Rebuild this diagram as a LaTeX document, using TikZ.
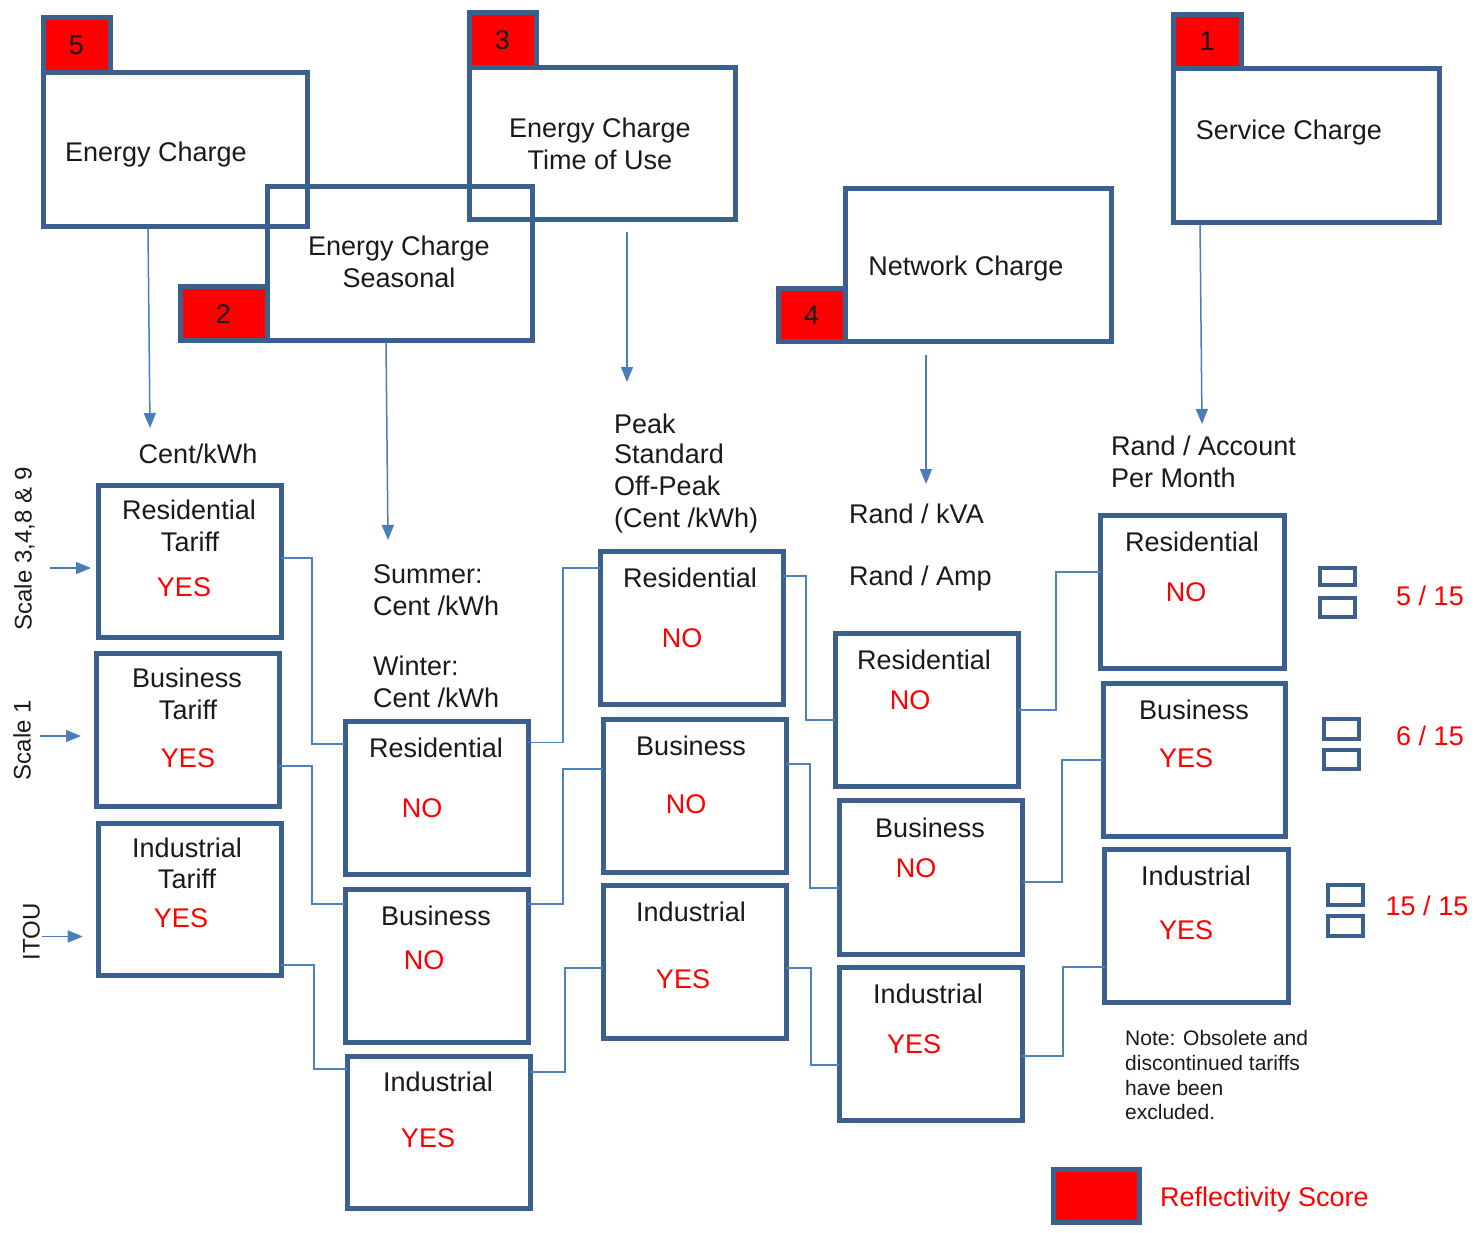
\documentclass[tikz,border=0pt]{standalone}
\usepackage{fontspec}
\setmainfont{Liberation Sans}
\usetikzlibrary{arrows.meta,calc}
\definecolor{boxblue}{RGB}{60,96,142}
\definecolor{tagred}{RGB}{255,0,0}
\definecolor{connblue}{RGB}{79,129,189}
\definecolor{arrblue}{RGB}{74,126,187}
\definecolor{txtblack}{RGB}{26,26,26}
\definecolor{ansred}{RGB}{255,0,0}
\begin{document}
\begin{tikzpicture}[x=1pt,y=-1pt,
  bx/.style={draw=boxblue, line width=5pt, inner sep=0pt, outer sep=0pt, anchor=north west},
  tagbox/.style={bx, fill=tagred},
  sq/.style={draw=boxblue, line width=4pt, inner sep=0pt, outer sep=0pt, anchor=north west, minimum width=35pt},
  conn/.style={draw=connblue, line width=1.5pt},
  arr/.style={draw=arrblue, line width=1.5pt, -{Triangle[length=15pt,width=12pt]}},
  txt/.style={inner sep=0pt, text=txtblack, font=\fontsize{27}{32}\selectfont, text height=19.5pt, text depth=0pt},
  ans/.style={txt, text=ansred},
  side/.style={inner sep=0pt, text=txtblack, font=\fontsize{24}{28}\selectfont, text height=17.2pt, text depth=0pt, rotate=90},
  note/.style={inner sep=0pt, text=txtblack, font=\fontsize{21}{24}\selectfont, text height=15pt, text depth=0pt, anchor=west}
]
\fill[white] (0,0) rectangle (1479,1232);
\useasboundingbox (0,0) rectangle (1479,1232);

% ---- top boxes ----
\node[bx, minimum width=264pt, minimum height=154pt] (ec5) at (43,72) {};
\node[tagbox, minimum width=67pt, minimum height=55pt] (tg5) at (43,17) {};
\node[bx, minimum width=265pt, minimum height=153.5pt] (ec2) at (267,186.5) {};
\node[tagbox, minimum width=87pt, minimum height=53.5pt] (tg2) at (180,286.5) {};
\node[bx, minimum width=266pt, minimum height=152pt] (ec3) at (469,67) {};
\node[tagbox, minimum width=67pt, minimum height=54.5pt] (tg3) at (469,12.5) {};
\node[bx, minimum width=266pt, minimum height=153.5pt] (nc4) at (845,188) {};
\node[tagbox, minimum width=67pt, minimum height=53.5pt] (tg4) at (778,288) {};
\node[bx, minimum width=266pt, minimum height=154pt] (sc1) at (1173,68) {};
\node[tagbox, minimum width=68pt, minimum height=54pt] (tg1) at (1173,14) {};

\node[txt] (n5) at (tg5.center) {5};
\node[txt] (n2) at (tg2.center) {2};
\node[txt] (n3) at (tg3.center) {3};
\node[txt] (n4) at (tg4.center) {4};
\node[txt] (n1) at (tg1.center) {1};

\node[txt] (ec5t) at (156,152) {Energy Charge};
\node[txt] (ec2a) at (399,246) {Energy Charge};
\node[txt] (ec2b) at (399,278) {Seasonal};
\node[txt] (ec3a) at (600,128) {Energy Charge};
\node[txt] (ec3b) at (600,160) {Time of Use};
\node[txt] (nc4t) at (966,266) {Network Charge};
\node[txt] (sc1t) at (1289,130) {Service Charge};

% ---- down arrows ----
\coordinate (e5) at (150,428);
\coordinate (e2) at (388,540);
\coordinate (e3) at (627,382);
\coordinate (e4) at (926,484);
\coordinate (e1) at (1202,424);
\draw[arr] ($(ec5.south -| 148,0)+(0,2.5)$) -- (e5);
\draw[arr] ($(ec2.south -| 386,0)+(0,2.5)$) -- (e2);
\draw[arr] ($(ec3.south -| 627,0)+(0,13)$) -- (e3);
\draw[arr] ($(nc4.south -| 926,0)+(0,13.5)$) -- (e4);
\draw[arr] ($(sc1.south -| 1200,0)+(0,2.5)$) -- (e1);

% ---- unit labels ----
\node[txt] (u1) at (198,454) {Cent/kWh};
\node[txt, anchor=west] (u2a) at (373,574) {Summer:};
\node[txt, anchor=west] (u2b) at (373,606) {Cent /kWh};
\node[txt, anchor=west] (u2c) at (373,666) {Winter:};
\node[txt, anchor=west] (u2d) at (373,698) {Cent /kWh};
\node[txt, anchor=west] (u3a) at (614,424) {Peak};
\node[txt, anchor=west] (u3b) at (614,454) {Standard};
\node[txt, anchor=west] (u3c) at (614,486) {Off-Peak};
\node[txt, anchor=west] (u3d) at (614,518) {(Cent /kWh)};
\node[txt, anchor=west] (u4a) at (849,514) {Rand / kVA};
\node[txt, anchor=west] (u4b) at (849,576) {Rand / Amp};
\node[txt, anchor=west] (u5a) at (1111,446) {Rand / Account};
\node[txt, anchor=west] (u5b) at (1111,478) {Per Month};

% ---- side labels ----
\node[side] (sl1) at (23,549) {Scale 3,4,8 \& 9};
\node[side] (sl2) at (22,740) {Scale 1};
\node[side] (sl3) at (31,932) {ITOU};

% ---- column 1 ----
\node[bx, minimum width=183pt, minimum height=152.5pt] (rt1) at (98,485) {};
\node[bx, minimum width=183pt, minimum height=153pt] (bt1) at (96,653) {};
\node[bx, minimum width=183pt, minimum height=152.5pt] (it1) at (98,823) {};
\node[txt] (rt1a) at (189,510) {Residential};
\node[txt] (rt1b) at (190,542) {Tariff};
\node[ans] (rt1c) at (184,587) {YES};
\node[txt] (bt1a) at (187,678) {Business};
\node[txt] (bt1b) at (188,710) {Tariff};
\node[ans] (bt1c) at (188,758) {YES};
\node[txt] (it1a) at (187,848) {Industrial};
\node[txt] (it1b) at (187,879) {Tariff};
\node[ans] (it1c) at (181,918) {YES};

\coordinate (l1) at (50,568);
\coordinate (l2) at (40,736);
\coordinate (l3) at (42,936.5);
\draw[arr, shorten >=7pt] (l1) -- (rt1.west |- l1);
\draw[arr, shorten >=15pt] (l2) -- (bt1.west |- l2);
\draw[arr, shorten >=15.3pt] (l3) -- (it1.west |- l3);

% ---- column 2 ----
\node[bx, minimum width=183pt, minimum height=153pt] (rs2) at (345,721) {};
\node[bx, minimum width=183pt, minimum height=153pt] (bs2) at (345,889) {};
\node[bx, minimum width=183pt, minimum height=152pt] (is2) at (347,1056) {};
\node[txt] (rs2a) at (436,748) {Residential};
\node[ans] (rs2b) at (422,808) {NO};
\node[txt] (bs2a) at (436,916) {Business};
\node[ans] (bs2b) at (424,960) {NO};
\node[txt] (is2a) at (438,1082) {Industrial};
\node[ans] (is2b) at (428,1138) {YES};

% ---- column 3 ----
\node[bx, minimum width=183pt, minimum height=153pt] (r3) at (600,551) {};
\node[bx, minimum width=183pt, minimum height=153pt] (b3) at (603,719) {};
\node[bx, minimum width=183pt, minimum height=153pt] (i3) at (603,885) {};
\node[txt] (r3a) at (690,578) {Residential};
\node[ans] (r3b) at (682,638) {NO};
\node[txt] (b3a) at (691,746) {Business};
\node[ans] (b3b) at (686,804) {NO};
\node[txt] (i3a) at (691,912) {Industrial};
\node[ans] (i3b) at (683,979) {YES};

% ---- column 4 ----
\node[bx, minimum width=183pt, minimum height=153.5pt] (r4) at (835,633) {};
\node[bx, minimum width=183.5pt, minimum height=153.5pt] (b4) at (839,800.5) {};
\node[bx, minimum width=183pt, minimum height=153pt] (i4) at (839,967) {};
\node[txt] (r4a) at (924,660) {Residential};
\node[ans] (r4b) at (910,700) {NO};
\node[txt] (b4a) at (930,828) {Business};
\node[ans] (b4b) at (916,868) {NO};
\node[txt] (i4a) at (928,994) {Industrial};
\node[ans] (i4b) at (914,1044) {YES};

% ---- column 5 ----
\node[bx, minimum width=183.5pt, minimum height=153.5pt] (r5) at (1100.5,515) {};
\node[bx, minimum width=182.5pt, minimum height=153.5pt] (b5) at (1103,683) {};
\node[bx, minimum width=183.5pt, minimum height=152.5pt] (i5) at (1104.5,849.5) {};
\node[txt] (r5a) at (1192,542) {Residential};
\node[ans] (r5b) at (1186,592) {NO};
\node[txt] (b5a) at (1194,710) {Business};
\node[ans] (b5b) at (1186,758) {YES};
\node[txt] (i5a) at (1196,876) {Industrial};
\node[ans] (i5b) at (1186,930) {YES};

% ---- connectors ----
\draw[conn] (rt1.east |- 0,558) -- (312,558) |- (rs2.west |- 0,744);
\draw[conn] (bt1.east |- 0,766) -- (312,766) |- (bs2.west |- 0,904);
\draw[conn] (it1.east |- 0,965) -- (314,965) |- (is2.west |- 0,1069);
\draw[conn] (rs2.east |- 0,742.5) -- (563,742.5) |- (r3.west |- 0,568);
\draw[conn] (bs2.east |- 0,904) -- (563,904) |- (b3.west |- 0,769);
\draw[conn] (is2.east |- 0,1072) -- (565,1072) |- (i3.west |- 0,968);
\draw[conn] (r3.east |- 0,576) -- (806,576) |- (r4.west |- 0,720);
\draw[conn] (b3.east |- 0,764) -- (810,764) |- (b4.west |- 0,888);
\draw[conn] (i3.east |- 0,968) -- (811,968) |- (i4.west |- 0,1065);
\draw[conn] (r4.east |- 0,710) -- (1056,710) |- (r5.west |- 0,572);
\draw[conn] (b4.east |- 0,882) -- (1062,882) |- (b5.west |- 0,760);
\draw[conn] (i4.east |- 0,1056) -- (1063,1056) |- (i5.west |- 0,967);

% ---- score markers ----
\node[sq, minimum height=17pt] (q1a) at (1320,568) {};
\node[sq, minimum height=19pt] (q1b) at (1320,598) {};
\node[sq, minimum height=20pt] (q2a) at (1324,719) {};
\node[sq, minimum height=19pt] (q2b) at (1324,750) {};
\node[sq, minimum height=20pt] (q3a) at (1328,885) {};
\node[sq, minimum height=20pt] (q3b) at (1328,916) {};
\node[ans] (s1) at (1430,596) {5 / 15};
\node[ans] (s2) at (1430,736) {6 / 15};
\node[ans] (s3) at (1427,906) {15 / 15};

% ---- note ----
\node[note] (nt1) at (1125,1038) {Note: Obsolete and};
\node[note] (nt2) at (1125,1063) {discontinued tariffs};
\node[note] (nt3) at (1125,1088) {have been};
\node[note] (nt4) at (1125,1112) {excluded.};

% ---- legend ----
\node[tagbox, minimum width=86pt, minimum height=52.5pt] (lg) at (1053.5,1169.5) {};
\node[ans, anchor=west] (lgt) at (1160,1197) {Reflectivity Score};
\end{tikzpicture}
\end{document}
